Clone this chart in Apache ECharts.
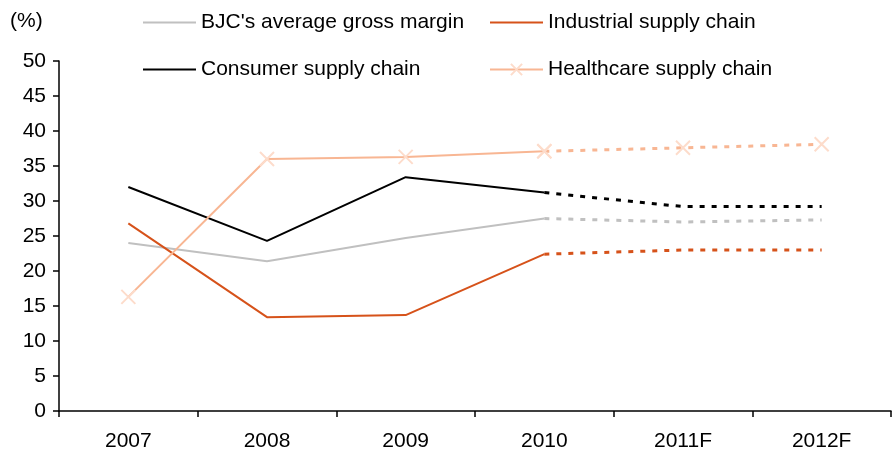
<!DOCTYPE html>
<html>
<head>
<meta charset="utf-8">
<style>
  html, body { margin: 0; padding: 0; background: #fff; }
  #chart { width: 893px; height: 452px; }
</style>
<script src="https://cdn.jsdelivr.net/npm/echarts@6/dist/echarts.min.js"></script>
</head>
<body>
<div id="chart"></div>
<script>
// Gross margin by business line, actual 2007-2010 and forecast 2011F-2012F
const categories = ['2007', '2008', '2009', '2010', '2011F', '2012F'];
const yTicks = [0, 5, 10, 15, 20, 25, 30, 35, 40, 45, 50];

const averageMargin = [24.0, 21.4, 24.7, 27.5, 27.0, 27.3];
const industrial    = [26.8, 13.4, 13.7, 22.4, 23.0, 23.0];
const consumer      = [32.0, 24.3, 33.4, 31.2, 29.2, 29.2];
const healthcare    = [16.3, 36.0, 36.3, 37.1, 37.6, 38.1];

// index of the last actual year; later points are forecasts (dotted)
const lastActual = 3;

const FONT = '"Liberation Sans", Arial, sans-serif';
const crossSymbol = 'path://M0,0L10,10M10,0L0,10';

function actualPart(arr) {
  return arr.map((v, i) => (i <= lastActual ? v : '-'));
}
function forecastPart(arr) {
  return arr.map((v, i) => (i >= lastActual ? v : '-'));
}

const lines = [
  { name: "BJC's average gross margin", data: averageMargin, color: '#c0c0c0' },
  { name: 'Industrial supply chain', data: industrial, color: '#d6521a' },
  { name: 'Consumer supply chain', data: consumer, color: '#000000' },
  { name: 'Healthcare supply chain', data: healthcare, color: '#f8b693', marker: true }
];

const series = [];
lines.forEach((l) => {
  const symbolOpts = l.marker
    ? {
        symbol: crossSymbol,
        symbolSize: 14,
        showSymbol: true,
        itemStyle: { color: l.color, borderColor: '#fddccb', borderWidth: 2 }
      }
    : { symbol: 'none', itemStyle: { color: l.color } };
  series.push(Object.assign({
    name: l.name,
    type: 'line',
    data: actualPart(l.data),
    lineStyle: { color: l.color, width: 2 },
    silent: true,
    animation: false
  }, symbolOpts));
  series.push(Object.assign({
    name: l.name + ' (F)',
    type: 'line',
    data: forecastPart(l.data),
    lineStyle: { color: l.color, width: 3, type: [5, 7] },
    silent: true,
    animation: false
  }, symbolOpts));
});

const legendBase = {
  orient: 'horizontal',
  itemWidth: 53,
  itemHeight: 14,
  itemGap: 0,
  selectedMode: false,
  textStyle: { fontFamily: FONT, fontSize: 21, color: '#000', padding: [0, 0, 0, 0] }
};
const legendPos = [
  { left: 137, top: 7 },
  { left: 484, top: 7 },
  { left: 137, top: 54 },
  { left: 484, top: 54 }
];
const legends = lines.map((l, i) => Object.assign({}, legendBase, legendPos[i], {
  // plain lines carry no marker in their legend key
  data: [l.marker ? l.name : { name: l.name, itemStyle: { opacity: 0 } }]
}));

const chart = echarts.init(document.getElementById('chart'), null, { renderer: 'canvas' });
chart.setOption({
  animation: false,
  backgroundColor: '#fff',
  legend: legends,
  graphic: [{
    type: 'text',
    left: 10,
    top: 11,
    style: { text: '(%)', font: '21px ' + FONT, fill: '#000' }
  }],
  grid: { left: 59, right: 2, top: 61, bottom: 41, containLabel: false },
  xAxis: {
    type: 'category',
    data: categories,
    boundaryGap: true,
    axisLine: { lineStyle: { color: '#000', width: 1.5 } },
    axisTick: { show: true, length: 6, lineStyle: { color: '#000', width: 1.5 } },
    axisLabel: { margin: 20, fontFamily: FONT, fontSize: 21, color: '#000' },
    splitLine: { show: false }
  },
  yAxis: {
    type: 'value',
    min: yTicks[0],
    max: yTicks[yTicks.length - 1],
    interval: yTicks[1] - yTicks[0],
    axisLine: { show: true, lineStyle: { color: '#000', width: 1.5 } },
    axisTick: { show: true, length: 6, lineStyle: { color: '#000', width: 1.5 } },
    axisLabel: { margin: 13, fontFamily: FONT, fontSize: 21, color: '#000' },
    splitLine: { show: false }
  },
  series: series
});
</script>
</body>
</html>
